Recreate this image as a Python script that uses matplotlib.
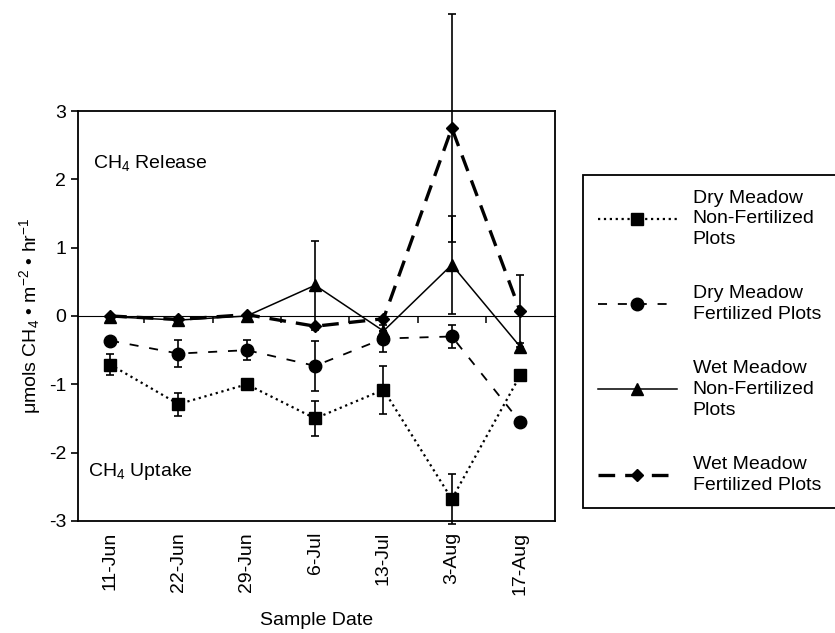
import matplotlib
matplotlib.use("Agg")
import matplotlib.pyplot as plt
import numpy as np

plt.rcParams["font.family"] = ["Liberation Sans", "DejaVu Sans"]
plt.rcParams["mathtext.fontset"] = "custom"
plt.rcParams["mathtext.rm"] = "Liberation Sans"
plt.rcParams["mathtext.it"] = "Liberation Sans:italic"
plt.rcParams["mathtext.default"] = "regular"

dates = ["11-Jun", "22-Jun", "29-Jun", "6-Jul", "13-Jul", "3-Aug", "17-Aug"]

dry_nonfert = [-0.71, -1.29, -1.0, -1.5, -1.08, -2.68, -0.87]
dry_nonfert_err = [0.15, 0.17, 0.05, 0.25, 0.35, 0.37, 0.05]

dry_fert = [-0.36, -0.55, -0.5, -0.73, -0.33, -0.3, -1.55]
dry_fert_err = [0.0, 0.2, 0.15, 0.37, 0.2, 0.17, 0.0]

wet_nonfert = [-0.01, -0.06, 0.0, 0.45, -0.22, 0.75, -0.45]
wet_nonfert_err = [0.0, 0.0, 0.0, 0.65, 0.0, 0.72, 0.05]

wet_fert = [0.0, -0.05, 0.02, -0.15, -0.04, 2.75, 0.07]
wet_fert_err = [0.0, 0.0, 0.0, 0.0, 0.0, 1.67, 0.53]

labels = [
    "Dry Meadow\nNon-Fertilized\nPlots",
    "Dry Meadow\nFertilized Plots",
    "Wet Meadow\nNon-Fertilized\nPlots",
    "Wet Meadow\nFertilized Plots",
]

x = np.arange(len(dates))

fig = plt.figure(figsize=(8.35, 6.33), dpi=100)
ax = fig.add_axes([0.0934, 0.177, 0.5713, 0.6476])

err_kw = dict(ecolor="black", elinewidth=1.2, capsize=3, capthick=1.2, clip_on=False)

h1 = ax.errorbar(x, dry_nonfert, yerr=dry_nonfert_err, color="black", linestyle=":",
                 linewidth=1.6, marker="s", markersize=9, **err_kw)
h2 = ax.errorbar(x, dry_fert, yerr=dry_fert_err, color="black", linestyle=(0, (5, 6)),
                 linewidth=1.3, marker="o", markersize=9, **err_kw)
h3 = ax.errorbar(x, wet_nonfert, yerr=wet_nonfert_err, color="black", linestyle="-",
                 linewidth=1.1, marker="^", markersize=8, **err_kw)
h4 = ax.errorbar(x, wet_fert, yerr=wet_fert_err, color="black", linestyle=(0, (5, 3)),
                 linewidth=2.4, marker="D", markersize=6.5, **err_kw)

ax.set_xlim(-0.47, 6.51)
ax.set_ylim(-3, 3)
ax.set_yticks([3, 2, 1, 0, -1, -2, -3])
ax.set_yticklabels(["3", "2", "1", "0", "-1", "-2", "-3"])
ax.set_xticks(x)
ax.set_xticklabels(dates, rotation=90)
ax.tick_params(axis="x", length=0, pad=8, labelsize=14)
ax.tick_params(axis="y", direction="out", length=5, width=1.2, labelsize=14)
for s in ax.spines.values():
    s.set_linewidth(1.3)

# zero line with ticks between sample dates
zero = ax.secondary_xaxis(0.5)
zero.set_xticks(x[:-1] + 0.5)
zero.set_xticklabels([])
zero.tick_params(direction="in", length=5, width=1.1)
zero.spines["bottom"].set_linewidth(1.1)

ax.text(-0.25, 2.24, "CH$_4$ Release", fontsize=14, va="center", ha="left")
ax.text(-0.32, -2.27, "CH$_4$ Uptake", fontsize=14, va="center", ha="left")

ax.set_xlabel("Sample Date", fontsize=14, labelpad=12)
ax.set_ylabel("μmols CH$_4$ • m$^{-2}$ • hr$^{-1}$", fontsize=14, labelpad=4)

handles = [h[0] for h in (h1, h2, h3, h4)]
leg = fig.legend(handles, labels, loc="upper left",
                 bbox_to_anchor=(583 / 835, 1 - 175 / 633), borderaxespad=0,
                 fontsize=14, handlelength=4.1, handletextpad=0.8, labelspacing=1.9,
                 borderpad=0.75, numpoints=1, fancybox=False, edgecolor="black",
                 framealpha=1)
leg.get_frame().set_linewidth(1.3)
for t in leg.get_texts():
    t.set_linespacing(1.3)

fig.savefig("out.png", dpi=100)
